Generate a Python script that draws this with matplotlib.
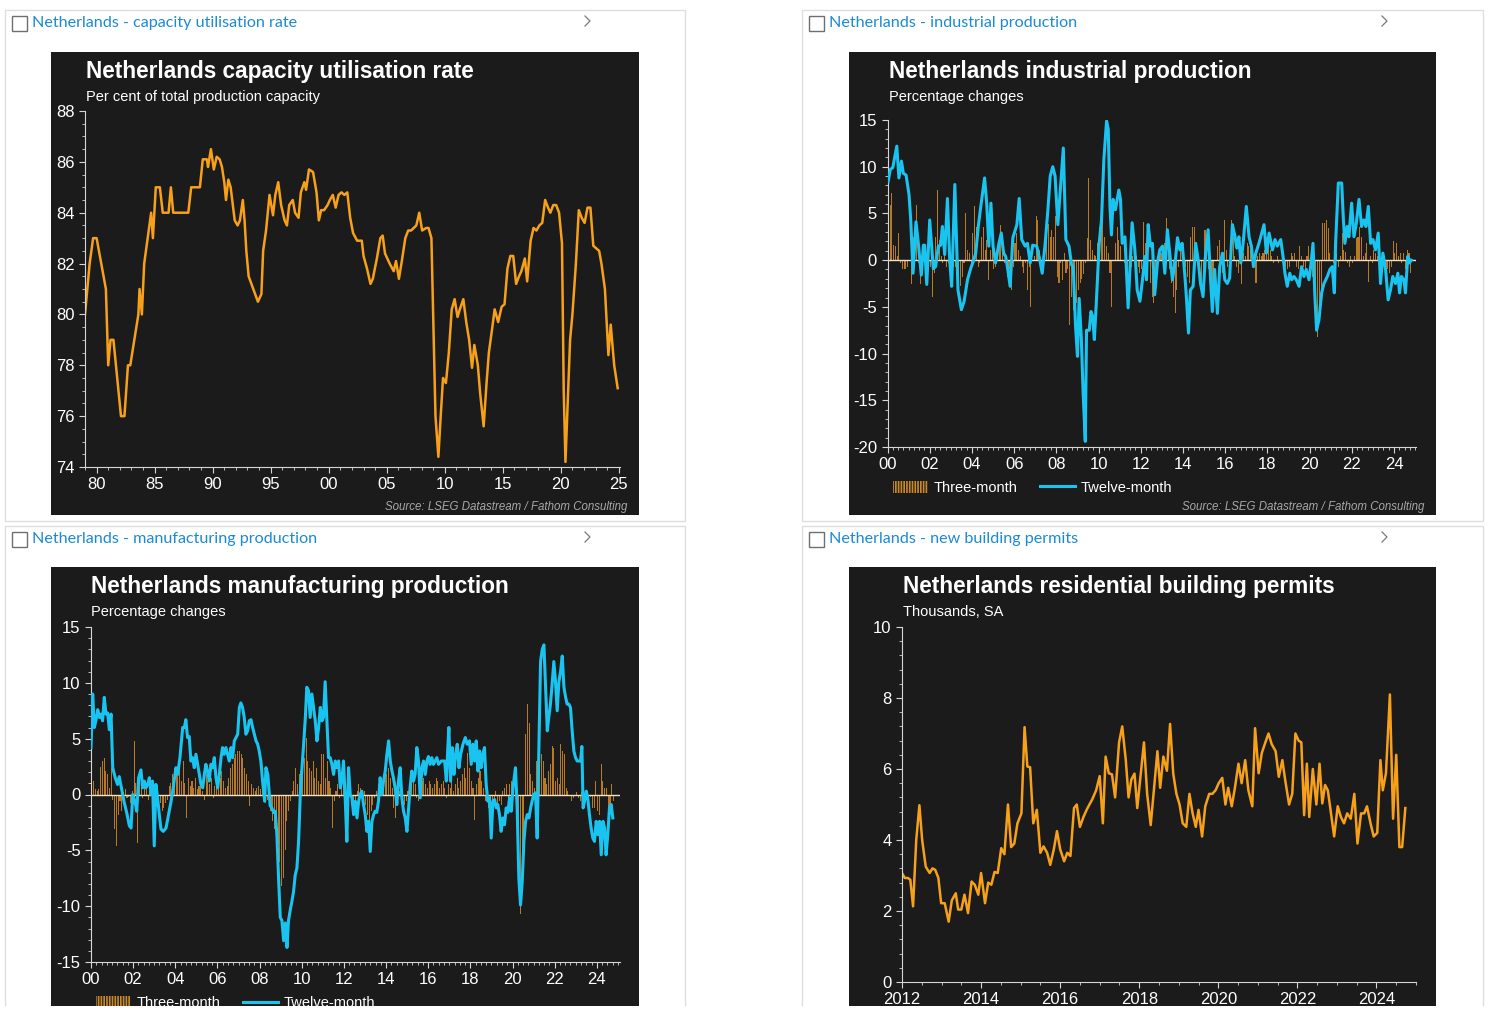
import matplotlib.pyplot as plt
import numpy as np
from matplotlib.lines import Line2D
from matplotlib.patches import Patch, Rectangle
from matplotlib.ticker import MultipleLocator

# ---- data ------------------------------------------------------------------

# capacity utilisation rate, per cent (year, value)
cap_util = [
    (1979.0, 80.0), (1979.4, 82.0), (1979.7, 83.0), (1980.0, 83.0), (1980.4, 82.0),
    (1980.8, 81.0), (1981.0, 78.0), (1981.2, 79.0), (1981.45, 79.0), (1982.1, 76.0),
    (1982.4, 76.0), (1982.7, 78.0), (1982.9, 78.0), (1983.6, 80.0), (1983.7, 81.0),
    (1983.9, 80.0), (1984.1, 82.0), (1984.7, 84.0), (1984.85, 83.0), (1985.1, 85.0),
    (1985.45, 85.0), (1985.7, 84.0), (1986.2, 84.0), (1986.4, 85.0), (1986.6, 84.0),
    (1987.9, 84.0), (1988.15, 85.0), (1988.9, 85.0), (1989.15, 86.1), (1989.5, 86.1),
    (1989.6, 85.8), (1989.85, 86.5), (1990.1, 85.7), (1990.35, 86.2), (1990.6, 86.1),
    (1990.8, 85.8), (1991.0, 85.2), (1991.15, 84.5), (1991.35, 85.3), (1991.55, 85.0),
    (1991.9, 83.7), (1992.15, 83.5), (1992.35, 83.7), (1992.6, 84.5), (1992.75, 83.7),
    (1992.9, 82.5), (1993.1, 81.5), (1993.5, 81.0), (1993.9, 80.5), (1994.2, 80.8),
    (1994.35, 82.5), (1994.6, 83.3), (1994.9, 84.7), (1995.2, 83.9), (1995.4, 84.7),
    (1995.65, 85.2), (1995.9, 84.3), (1996.2, 83.7), (1996.4, 83.5), (1996.6, 84.3),
    (1996.9, 84.5), (1997.1, 84.0), (1997.4, 83.8), (1997.6, 84.8), (1997.9, 85.2),
    (1998.05, 84.9), (1998.3, 85.7), (1998.65, 85.6), (1998.95, 84.8), (1999.15, 83.7),
    (1999.35, 84.1), (1999.6, 84.1), (1999.9, 84.3), (2000.1, 84.5), (2000.35, 84.7),
    (2000.6, 84.2), (2000.85, 84.7), (2001.1, 84.8), (2001.35, 84.7), (2001.6, 84.8),
    (2001.85, 83.8), (2002.1, 83.2), (2002.45, 82.9), (2002.85, 82.9), (2003.0, 82.3),
    (2003.3, 81.8), (2003.6, 81.2), (2003.8, 81.4), (2004.15, 82.2), (2004.45, 83.0),
    (2004.65, 83.1), (2004.85, 82.4), (2005.25, 82.0), (2005.6, 81.7), (2005.8, 82.1),
    (2006.05, 81.4), (2006.3, 82.1), (2006.6, 83.0), (2006.85, 83.3), (2007.1, 83.3),
    (2007.55, 83.5), (2007.8, 84.0), (2008.05, 83.3), (2008.4, 83.4), (2008.6, 83.4),
    (2008.85, 83.0), (2009.05, 79.0), (2009.2, 76.0), (2009.45, 74.4), (2009.65, 76.0),
    (2009.85, 77.5), (2010.1, 77.3), (2010.35, 78.5), (2010.6, 80.2), (2010.85, 80.6),
    (2011.1, 79.9), (2011.3, 80.2), (2011.6, 80.6), (2011.85, 79.7), (2012.1, 79.0),
    (2012.35, 77.9), (2012.55, 78.8), (2012.85, 78.0), (2013.05, 76.9), (2013.35, 75.6),
    (2013.6, 77.3), (2013.8, 78.5), (2014.1, 79.5), (2014.3, 80.2), (2014.6, 79.7),
    (2014.9, 80.3), (2015.15, 80.4), (2015.4, 81.8), (2015.65, 82.3), (2015.9, 82.3),
    (2016.15, 81.2), (2016.4, 81.5), (2016.6, 81.7), (2016.9, 82.2), (2017.1, 81.3),
    (2017.4, 82.9), (2017.65, 83.4), (2017.9, 83.3), (2018.15, 83.5), (2018.4, 83.6),
    (2018.65, 84.5), (2018.9, 84.2), (2019.1, 84.0), (2019.35, 84.3), (2019.6, 84.3),
    (2019.85, 84.0), (2020.1, 82.8), (2020.25, 77.0), (2020.4, 74.2), (2020.55, 76.0),
    (2020.8, 79.0), (2021.0, 80.0), (2021.3, 82.0), (2021.55, 84.1), (2021.8, 83.8),
    (2022.05, 83.6), (2022.3, 84.2), (2022.55, 84.2), (2022.8, 82.7), (2023.05, 82.6),
    (2023.3, 82.5), (2023.5, 82.0), (2023.8, 81.0), (2024.1, 78.4), (2024.3, 79.6),
    (2024.6, 78.0), (2024.9, 77.1),
]

# industrial production, three-month % change, monthly from Jan 2000
ip_three = [
    5.8, 5.9, 7.2, 1.6, 1.5, 0.4, 2.9, -0.3, -1.0, -1.0, -0.9, -0.7,   # 2000
    0.0, -2.6, 2.5, 0.4, 5.9, -0.3, -2.6, -0.3, 0.8, -0.7, -1.8, -0.3,
    -0.7, -3.9, -1.4, 2.5, 7.5, 2.2, 0.4, -0.3, 0.8, -0.7, -0.3, -0.7,
    -1.0, -0.7, -0.7, -1.4, -3.2, -2.8, -1.8, -0.3, 5.0, 1.1, 0.8, -0.7,
    2.9, 5.8, 3.6, -0.7, -0.3, 2.5, 3.6, 1.1, 2.2, -2.1, 1.1, 1.8,
    -1.0, -0.7, 0.8, 1.8, 3.8, 1.1, -0.3, -0.7, -1.8, -1.0, -3.2, -0.7,  # 2005
    1.8, 2.9, 1.1, 0.4, -0.7, -1.4, -0.3, -3.2, -0.7, -5.0, 0.0, 0.4,
    4.7, 4.3, 1.1, -0.3, 0.0, 1.1, 2.5, 3.9, 2.5, 3.2, 2.5, 4.7,
    -1.8, -2.5, -0.3, -2.1, 0.8, -1.4, -1.0, -6.9, -3.9, -5.3, -6.0, -4.6,
    -3.2, -2.5, -2.0, -1.5, -0.3, 2.4, 8.8, 2.2, 1.1, 0.6, 0.4, 1.8,
    3.6, 3.9, 4.7, 2.5, 1.5, 0.8, -1.4, -5.0, 0.0, 1.8, 3.6, 2.2,       # 2010
    1.5, 0.0, -0.3, -0.7, -1.0, -1.8, -0.7, 0.4, 1.1, 0.4, -0.7, -1.4,
    -1.0, 4.1, 1.8, 0.8, 0.0, -2.5, -3.9, -4.6, -1.8, 0.0, 0.4, 0.8,
    1.5, 1.8, 4.5, 1.1, -1.0, -2.5, -3.9, -5.7, -3.2, -0.7, 1.1, 1.8,
    0.0, -0.7, -1.8, -2.5, 2.5, 3.6, 3.6, 1.8, 1.1, -1.0, -2.5, -0.7,
    3.2, 1.8, -1.0, -2.9, -3.9, -2.5, 0.0, 1.5, 2.2, -0.3, -1.4, 4.3,   # 2015
    1.1, -0.7, -0.3, 4.3, 2.5, 0.4, -0.7, -1.4, -0.3, -2.6, 0.8, 0.4,
    1.8, 1.5, 1.1, 0.4, -0.7, -2.5, 0.4, 0.8, 0.4, 0.8, 1.1, 2.5,
    1.8, 1.1, 0.4, -0.3, 0.0, 0.4, -0.3, -0.1, 0.4, 0.2, -0.7, -1.0,
    -0.7, 0.8, 0.4, 0.8, -0.7, -1.0, 1.5, 0.4, -0.7, -1.4, 0.4, 1.5,
    -1.0, -1.8, -0.7, -5.3, -8.2, -6.0, -3.9, 4.0, 4.0, 4.3, 3.4, 0.8,  # 2020
    0.0, -0.3, 0.4, 0.8, -0.7, 0.4, 2.9, 1.1, 0.9, -0.3, -0.7, 0.4,
    -0.3, 0.4, 2.4, 2.5, 3.6, 2.5, 0.4, 0.8, 1.8, -2.3, 0.4, -0.3,
    1.1, 0.8, 0.4, -0.3, -0.7, 0.0, -0.3, -0.7, -1.0, -1.4, -0.7, 2.0,
    0.8, 1.8, 0.4, 0.8, -0.3, 0.8, -1.0, 1.1, 0.8, -1.4,
]

# industrial production, twelve-month % change (year, value)
ip_twelve = [
    (2000.03, 8.4), (2000.13, 9.7), (2000.25, 9.9), (2000.44, 12.2), (2000.54, 8.8),
    (2000.66, 10.6), (2000.75, 9.3), (2000.88, 9.1), (2001.02, 7.0), (2001.1, 4.3),
    (2001.21, -1.4), (2001.35, 4.1), (2001.46, 1.8), (2001.6, -1.6), (2001.7, 1.6),
    (2001.76, 1.6), (2001.86, -2.6), (2002.0, 4.3), (2002.17, -0.9), (2002.28, -0.7),
    (2002.41, 1.5), (2002.52, 1.6), (2002.6, 3.6), (2002.71, 0.6), (2002.84, 6.6),
    (2002.95, -0.1), (2003.04, -2.8), (2003.19, 8.1), (2003.34, -3.2), (2003.5, -5.3),
    (2003.63, -4.4), (2003.79, -2.1), (2003.94, -0.9), (2004.07, -0.1), (2004.18, 0.75),
    (2004.3, 3.6), (2004.42, 5.75), (2004.6, 8.8), (2004.7, 6.1), (2004.8, 1.5),
    (2004.9, 6.1), (2005.0, 1.5), (2005.12, -0.3), (2005.28, 1.8), (2005.39, 2.9),
    (2005.5, 0.75), (2005.6, 0.4), (2005.7, -1.0), (2005.81, -2.8), (2005.94, 2.4),
    (2006.13, 3.8), (2006.24, 6.6), (2006.36, 2.2), (2006.52, 1.5), (2006.63, 1.8),
    (2006.76, -0.3), (2006.88, 1.6), (2007.07, 1.5), (2007.2, 0.2), (2007.33, -1.4),
    (2007.47, 1.8), (2007.6, 5.4), (2007.71, 9.0), (2007.83, 10.0), (2007.94, 9.0),
    (2008.07, 3.8), (2008.33, 12.0), (2008.45, 2.2), (2008.6, 1.5), (2008.72, -0.5),
    (2008.8, -0.7), (2008.91, -7.1), (2009.0, -10.3), (2009.08, -4.1), (2009.18, -8.2),
    (2009.27, -14.3), (2009.37, -19.4), (2009.43, -7.5), (2009.56, -7.5), (2009.64, -5.5),
    (2009.72, -6.0), (2009.8, -8.5), (2009.9, -4.25), (2010.03, 1.8), (2010.14, 4.3),
    (2010.25, 10.75), (2010.38, 14.9), (2010.46, 14.0), (2010.54, 5.75), (2010.61, 2.7),
    (2010.69, 6.5), (2010.8, 5.4), (2010.96, 7.5), (2011.04, 6.5), (2011.12, 1.8),
    (2011.25, 2.5), (2011.4, -5.1), (2011.59, 4.0), (2011.72, 1.1), (2011.83, -3.2),
    (2011.96, -4.4), (2012.08, -2.1), (2012.2, 0.4), (2012.27, -2.1), (2012.35, 3.8),
    (2012.46, 1.5), (2012.55, 1.8), (2012.66, -3.7), (2012.79, -0.3), (2012.9, 1.1),
    (2013.03, 1.5), (2013.14, -1.4), (2013.26, 3.25), (2013.37, 0.75), (2013.5, -2.1),
    (2013.64, 0.0), (2013.74, 2.4), (2013.85, 1.1), (2013.96, 1.8), (2014.08, -1.4),
    (2014.16, -3.9), (2014.26, -7.8), (2014.35, -3.2), (2014.48, -2.8), (2014.6, 1.8),
    (2014.72, 0.0), (2014.83, -2.5), (2014.95, -3.9), (2015.06, 0.4), (2015.19, 3.25),
    (2015.3, -1.75), (2015.39, -5.5), (2015.5, -1.0), (2015.63, -5.7), (2015.74, -0.7),
    (2015.87, 0.75), (2015.98, -2.1), (2016.1, -2.5), (2016.21, -1.9), (2016.34, 3.8),
    (2016.45, 2.7), (2016.55, 1.3), (2016.65, 2.5), (2016.74, -0.3), (2016.85, 1.8),
    (2017.0, 5.75), (2017.13, 2.5), (2017.24, 1.5), (2017.34, -0.7), (2017.45, 0.75),
    (2017.6, 1.8), (2017.84, 3.8), (2017.95, 0.75), (2018.08, 2.9), (2018.24, 1.1),
    (2018.36, 2.2), (2018.47, 1.5), (2018.63, 2.2), (2018.74, 0.4), (2018.83, -1.4),
    (2018.94, -2.8), (2019.06, -1.4), (2019.15, -2.1), (2019.26, -1.75), (2019.37, -2.1),
    (2019.5, -2.8), (2019.62, -0.7), (2019.73, -1.75), (2019.84, -1.0), (2019.97, -2.1),
    (2020.05, -0.7), (2020.16, 1.8), (2020.25, -3.9), (2020.33, -7.5), (2020.44, -6.4),
    (2020.57, -3.5), (2020.68, -2.5), (2020.84, -1.75), (2020.96, -1.0), (2021.07, -0.7),
    (2021.17, -3.5), (2021.23, 1.8), (2021.36, 8.25), (2021.52, 8.25), (2021.6, 4.3),
    (2021.67, 1.8), (2021.78, 3.6), (2021.86, 2.5), (2021.99, 6.1), (2022.1, 2.5),
    (2022.21, 3.9), (2022.34, 6.5), (2022.46, 3.6), (2022.57, 4.3), (2022.67, 3.6),
    (2022.78, 5.75), (2022.89, 1.8), (2023.0, 2.2), (2023.12, 1.1), (2023.25, 2.9),
    (2023.36, -2.5), (2023.47, 0.75), (2023.6, -1.0), (2023.72, -4.25), (2023.83, -3.2),
    (2023.94, -1.75), (2024.07, -2.5), (2024.18, -1.4), (2024.26, -3.5), (2024.35, -1.75),
    (2024.47, -2.1), (2024.54, -3.5), (2024.65, 0.4), (2024.73, -0.3), (2024.81, 0.0),
]

# manufacturing production, three-month % change, monthly from Jan 2000
mp_three = [
    2.0, 1.2, 0.5, 0.3, 0.5, 2.5, 3.0, 3.3, 2.1, 1.8, 0.6, 2.4,        # 2000
    -0.5, -3.1, -4.6, -1.8, -0.6, -1.5, 0.2, 0.5, -0.3, -0.2, -0.8, 0.3,
    4.8, 1.0, -4.3, 1.5, 0.8, -0.3, 1.3, 0.5, -0.5, 0.3, 0.8, -0.5,
    -1.0, -0.5, -0.3, -0.8, -1.5, -1.2, -0.8, -0.5, 0.8, 1.0, 1.8, 2.4,
    2.4, 1.8, 2.7, 1.2, 3.0, 1.0, -2.1, 1.5, 0.8, 1.2, 0.6, 1.5,
    0.5, 0.8, 1.5, 0.3, -0.5, 1.8, 1.2, 0.9, 1.5, -0.3, 0.8, 1.2,      # 2005
    0.6, 1.5, 2.1, 1.2, 0.6, 0.8, 1.5, 2.4, 2.7, 3.3, 3.6, 3.9,
    3.9, 3.6, 3.3, 2.4, 1.8, 1.2, -1.0, 0.9, 0.6, 0.3, 0.6, 0.8,
    0.5, 0.8, 0.3, -0.8, -0.5, -1.0, -1.5, -2.4, -3.1, -2.0, -4.5, -6.0,
    -8.2, -7.5, -5.0, -2.4, -1.5, -0.6, 0.3, 1.2, 2.4, 0.9, 1.8, 2.1,
    2.4, 3.3, 5.1, 3.0, 2.4, 2.1, 3.0, 1.5, 2.4, 1.2, 0.9, 3.6,        # 2010
    3.6, 1.5, 3.0, 1.2, 0.6, -3.0, -0.6, 0.3, 0.9, -0.3, 0.6, 1.2,
    0.3, -0.6, 0.9, 0.0, -0.6, -1.2, -0.6, 0.3, 0.9, 0.6, -0.3, 0.3,
    -0.9, -1.8, -2.4, -1.5, -0.9, -0.3, 0.3, 0.9, 1.2, 0.6, 1.5, 2.1,
    1.8, 2.4, 1.5, 0.6, -1.2, -2.1, -0.9, 0.3, 1.5, -0.3, -0.9, -0.6,
    0.3, 0.6, 1.2, 1.8, 0.9, -0.3, -0.6, 0.6, 1.2, 1.5, 0.9, 0.6,      # 2015
    1.2, 0.9, 0.6, 0.9, 1.5, 1.2, 0.6, 0.9, 1.2, 0.6, -0.3, 0.9,
    0.6, 1.2, 0.3, 0.9, 1.5, 0.6, 1.2, 1.8, 2.4, 1.5, 3.7, 2.4,
    1.2, 0.6, -2.3, 0.9, 1.5, 2.1, 1.2, 0.6, -0.6, 0.3, -1.2, -0.9,
    -0.6, -0.3, 0.3, -1.2, -0.6, -0.9, 0.3, 0.6, 0.9, -0.3, 0.9, 1.2,
    0.6, 2.4, -0.6, -3.9, -10.7, -8.4, -3.6, 5.4, 8.1, 6.4, 1.8, 1.2,  # 2020
    0.6, 3.0, 0.6, 3.9, 3.6, 3.0, 1.5, 0.9, 2.1, 2.7, 4.3, 4.2,
    1.2, 1.5, 0.9, 4.5, 3.9, 3.6, 0.6, 0.3, 0.0, -0.6, -0.3, 0.0,
    0.2, -0.3, -0.6, 0.2, -0.3, -0.6, -0.2, -0.6, -0.2, -1.2, -1.2, 1.2,
    -1.5, -1.8, 2.7, 1.2, 0.6, 0.6, -1.2, -1.8, 0.9, -0.6,
]

# manufacturing production, twelve-month % change (year, value)
mp_twelve = [
    (2000.0, 4.2), (2000.08, 9.0), (2000.16, 6.0), (2000.24, 6.7), (2000.32, 7.6),
    (2000.4, 6.9), (2000.47, 7.2), (2000.55, 6.6), (2000.63, 8.7), (2000.71, 7.2),
    (2000.79, 7.3), (2000.87, 5.8), (2000.95, 7.2), (2001.03, 2.4), (2001.15, 1.5),
    (2001.26, 0.9), (2001.34, 1.6), (2001.47, 0.3), (2001.58, -0.75), (2001.69, -1.6),
    (2001.82, -2.8), (2001.9, -3.0), (2001.98, 0.0), (2002.1, -0.75), (2002.17, -1.5),
    (2002.26, 1.5), (2002.37, 2.2), (2002.45, 0.6), (2002.53, 1.2), (2002.6, 0.6),
    (2002.69, 0.9), (2002.77, 1.5), (2002.85, 0.0), (2002.92, 1.2), (2003.0, -4.6),
    (2003.08, 0.9), (2003.16, -0.3), (2003.24, -1.8), (2003.32, -3.1), (2003.43, -3.3),
    (2003.56, -3.0), (2003.68, -1.8), (2003.8, -0.6), (2003.9, 0.6), (2004.03, 2.4),
    (2004.11, 1.8), (2004.22, 3.3), (2004.35, 6.0), (2004.43, 6.0), (2004.5, 6.7),
    (2004.58, 5.1), (2004.66, 5.2), (2004.74, 3.0), (2004.82, 3.3), (2004.9, 2.4),
    (2004.98, 3.6), (2005.06, 2.7), (2005.14, 1.8), (2005.22, 0.9), (2005.3, 0.6),
    (2005.38, 1.8), (2005.45, 2.7), (2005.53, 2.1), (2005.61, 1.2), (2005.69, 2.7),
    (2005.77, 2.4), (2005.85, 3.3), (2005.93, 1.5), (2006.01, 0.6), (2006.09, 1.8),
    (2006.17, 3.3), (2006.24, 4.2), (2006.32, 3.6), (2006.4, 4.2), (2006.48, 3.6),
    (2006.56, 3.0), (2006.64, 4.2), (2006.72, 3.3), (2006.8, 4.8), (2006.88, 5.1),
    (2006.96, 5.4), (2007.04, 7.8), (2007.11, 8.2), (2007.19, 7.8), (2007.27, 6.9),
    (2007.35, 5.4), (2007.43, 5.7), (2007.51, 6.6), (2007.59, 6.7), (2007.67, 6.0),
    (2007.75, 5.4), (2007.83, 4.8), (2007.91, 4.5), (2007.98, 3.9), (2008.06, 3.0),
    (2008.14, 1.2), (2008.24, -0.6), (2008.3, 2.4), (2008.39, 1.8), (2008.5, -1.0),
    (2008.58, -1.2), (2008.66, -1.6), (2008.74, -1.5), (2008.82, -3.6), (2008.9, -7.5),
    (2008.98, -11.0), (2009.06, -11.3), (2009.14, -13.1), (2009.22, -11.5), (2009.3, -13.7),
    (2009.37, -11.3), (2009.45, -10.4), (2009.53, -9.6), (2009.61, -8.7), (2009.69, -7.2),
    (2009.77, -6.6), (2009.85, -4.2), (2009.93, 0.0), (2010.01, 2.4), (2010.09, 4.5),
    (2010.17, 6.9), (2010.24, 9.6), (2010.32, 9.3), (2010.4, 6.9), (2010.48, 9.0),
    (2010.56, 7.8), (2010.64, 6.6), (2010.72, 4.8), (2010.8, 6.0), (2010.88, 7.8),
    (2010.96, 6.6), (2011.03, 6.9), (2011.11, 10.1), (2011.19, 6.6), (2011.27, 3.3),
    (2011.35, 3.3), (2011.43, 2.7), (2011.51, 1.8), (2011.59, 3.0), (2011.67, 2.4),
    (2011.75, 3.0), (2011.83, 0.6), (2011.9, 1.2), (2011.98, 3.0), (2012.06, -0.3),
    (2012.14, -4.2), (2012.22, 2.4), (2012.3, 0.0), (2012.38, -0.3), (2012.46, -1.8),
    (2012.54, -0.6), (2012.62, -2.1), (2012.7, -0.6), (2012.77, 0.0), (2012.85, 0.3),
    (2012.93, -0.9), (2013.01, -1.8), (2013.09, -3.3), (2013.17, -2.4), (2013.25, -5.1),
    (2013.33, -2.4), (2013.41, -1.8), (2013.48, -1.5), (2013.56, -1.6), (2013.64, -0.6),
    (2013.72, 1.5), (2013.8, 0.0), (2013.88, 1.2), (2013.96, 2.1), (2014.04, 3.6),
    (2014.12, 4.8), (2014.2, 3.0), (2014.28, 2.1), (2014.35, 1.5), (2014.43, 0.6),
    (2014.51, -0.9), (2014.59, 1.2), (2014.67, 2.4), (2014.75, -0.3), (2014.83, -1.5),
    (2014.91, -2.1), (2014.99, -3.3), (2015.07, -1.2), (2015.14, 0.6), (2015.22, 2.1),
    (2015.3, 1.2), (2015.38, 1.8), (2015.46, 4.2), (2015.54, 3.0), (2015.62, -0.3),
    (2015.7, 2.4), (2015.78, 3.0), (2015.86, 1.8), (2015.94, 3.0), (2016.01, 3.4),
    (2016.09, 2.7), (2016.17, 3.3), (2016.25, 2.7), (2016.33, 3.0), (2016.41, 3.3),
    (2016.49, 2.7), (2016.62, 3.0), (2016.78, 3.0), (2016.86, 1.2), (2016.93, 4.2),
    (2016.98, 6.0), (2017.06, 1.2), (2017.14, 4.2), (2017.22, 1.8), (2017.3, 3.6),
    (2017.38, 4.5), (2017.46, 2.4), (2017.54, 3.6), (2017.65, 4.5), (2017.76, 5.1),
    (2017.85, 4.5), (2017.96, 4.8), (2018.04, 2.7), (2018.12, 4.5), (2018.2, 3.0),
    (2018.28, 4.8), (2018.36, 2.1), (2018.44, 3.9), (2018.51, 2.4), (2018.59, 3.6),
    (2018.67, 4.2), (2018.75, 0.9), (2018.83, -0.6), (2018.91, -0.3), (2018.99, -3.9),
    (2019.07, -0.6), (2019.15, -0.45), (2019.23, -1.2), (2019.3, -0.9), (2019.38, -1.8),
    (2019.46, -3.3), (2019.54, -2.1), (2019.62, -2.7), (2019.7, -1.2), (2019.78, -1.6),
    (2019.86, -0.3), (2019.94, -1.5), (2020.02, 0.6), (2020.14, 2.4), (2020.22, -1.2),
    (2020.3, -7.5), (2020.38, -9.9), (2020.46, -7.8), (2020.54, -4.2), (2020.62, -2.4),
    (2020.7, -1.8), (2020.78, -2.1), (2020.86, -1.2), (2020.93, -0.6), (2021.01, 0.0),
    (2021.09, 0.15), (2021.17, -3.9), (2021.25, 4.2), (2021.33, 11.9), (2021.41, 13.0),
    (2021.49, 13.4), (2021.57, 9.6), (2021.65, 5.7), (2021.72, 6.9), (2021.8, 8.1),
    (2021.88, 9.9), (2021.96, 11.9), (2022.04, 10.1), (2022.12, 7.5), (2022.2, 10.1),
    (2022.28, 11.0), (2022.36, 12.4), (2022.44, 9.6), (2022.52, 8.7), (2022.59, 8.1),
    (2022.67, 8.1), (2022.75, 7.8), (2022.83, 5.7), (2022.91, 3.9), (2022.99, 3.3),
    (2023.07, 3.0), (2023.15, 3.0), (2023.23, 3.0), (2023.29, 4.3), (2023.35, -1.2),
    (2023.42, -0.6), (2023.5, 0.3), (2023.57, -0.3), (2023.65, -1.8), (2023.73, -3.0),
    (2023.81, -3.9), (2023.89, -4.2), (2023.97, -2.4), (2024.05, -3.6), (2024.13, -2.4),
    (2024.21, -5.4), (2024.29, -2.4), (2024.37, -3.0), (2024.44, -5.4), (2024.52, -3.6),
    (2024.6, -1.2), (2024.68, -0.9), (2024.76, -2.1),
]

# residential building permits, thousands SA (year, value)
permits = [
    (2012.0, 3.07), (2012.07, 2.93), (2012.15, 2.93), (2012.21, 2.88), (2012.28, 2.13),
    (2012.36, 4.0), (2012.44, 4.98), (2012.51, 4.0), (2012.6, 3.25), (2012.7, 3.07),
    (2012.77, 3.2), (2012.84, 3.16), (2012.92, 2.93), (2012.99, 2.22), (2013.08, 2.22),
    (2013.18, 1.7), (2013.26, 2.3), (2013.36, 2.5), (2013.42, 2.04), (2013.5, 2.04),
    (2013.58, 2.46), (2013.67, 1.94), (2013.76, 2.83), (2013.84, 2.74), (2013.93, 2.46),
    (2014.0, 3.07), (2014.1, 2.22), (2014.18, 2.8), (2014.26, 2.74), (2014.34, 3.1),
    (2014.42, 3.07), (2014.51, 3.77), (2014.59, 3.6), (2014.68, 5.0), (2014.76, 3.8),
    (2014.84, 3.9), (2014.92, 4.47), (2015.02, 4.75), (2015.1, 7.18), (2015.17, 6.07),
    (2015.24, 6.05), (2015.32, 4.47), (2015.41, 4.85), (2015.5, 3.64), (2015.58, 3.82),
    (2015.67, 3.64), (2015.75, 3.3), (2015.84, 3.74), (2015.92, 4.25), (2016.0, 3.74),
    (2016.1, 3.4), (2016.18, 3.64), (2016.26, 3.55), (2016.35, 4.9), (2016.42, 5.0),
    (2016.5, 4.37), (2016.59, 4.65), (2016.67, 4.85), (2016.74, 5.0), (2016.81, 5.14),
    (2016.91, 5.4), (2017.0, 5.8), (2017.08, 4.47), (2017.15, 6.35), (2017.23, 5.88),
    (2017.31, 5.85), (2017.39, 5.2), (2017.49, 6.75), (2017.57, 7.2), (2017.66, 6.25),
    (2017.73, 5.2), (2017.8, 5.7), (2017.88, 5.87), (2017.95, 4.9), (2018.03, 5.78),
    (2018.12, 6.75), (2018.2, 5.3), (2018.29, 4.42), (2018.37, 5.4), (2018.46, 6.5),
    (2018.53, 5.47), (2018.61, 6.35), (2018.7, 5.95), (2018.78, 7.27), (2018.86, 5.87),
    (2018.94, 5.3), (2019.02, 5.0), (2019.1, 4.47), (2019.19, 4.37), (2019.27, 5.3),
    (2019.35, 4.75), (2019.43, 4.37), (2019.5, 4.85), (2019.59, 4.1), (2019.67, 4.95),
    (2019.77, 5.3), (2019.85, 5.3), (2019.93, 5.4), (2020.01, 5.6), (2020.1, 5.75),
    (2020.18, 5.0), (2020.25, 5.47), (2020.34, 4.95), (2020.42, 5.47), (2020.51, 6.15),
    (2020.59, 5.6), (2020.68, 6.25), (2020.76, 5.4), (2020.86, 4.95), (2020.93, 7.15),
    (2021.02, 5.88), (2021.1, 6.45), (2021.19, 6.75), (2021.27, 7.0), (2021.35, 6.7),
    (2021.45, 6.5), (2021.53, 5.78), (2021.62, 6.25), (2021.69, 5.7), (2021.79, 5.0),
    (2021.87, 5.3), (2021.95, 7.0), (2022.03, 6.8), (2022.1, 6.75), (2022.17, 4.7),
    (2022.24, 6.15), (2022.3, 4.65), (2022.39, 6.0), (2022.48, 5.0), (2022.56, 6.15),
    (2022.63, 5.03), (2022.7, 5.55), (2022.77, 5.4), (2022.85, 4.75), (2022.93, 4.1),
    (2023.02, 4.95), (2023.1, 4.65), (2023.18, 4.47), (2023.26, 4.75), (2023.35, 4.6),
    (2023.44, 5.3), (2023.52, 3.9), (2023.61, 4.75), (2023.69, 4.75), (2023.76, 4.95),
    (2023.85, 4.47), (2023.93, 4.1), (2024.02, 4.2), (2024.1, 6.25), (2024.16, 5.4),
    (2024.24, 5.88), (2024.34, 8.1), (2024.42, 4.6), (2024.5, 6.4), (2024.58, 3.8),
    (2024.65, 3.8), (2024.73, 4.9),
]

cards = [
    "Netherlands - capacity utilisation rate",
    "Netherlands - industrial production",
    "Netherlands - manufacturing production",
    "Netherlands - new building permits",
]
titles = [
    "Netherlands capacity utilisation rate",
    "Netherlands industrial production",
    "Netherlands manufacturing production",
    "Netherlands residential building permits",
]
subtitles = [
    "Per cent of total production capacity",
    "Percentage changes",
    "Percentage changes",
    "Thousands, SA",
]
legend_labels = ["Three-month", "Twelve-month"]
source = "Source: LSEG Datastream / Fathom Consulting"

# ---- style ------------------------------------------------------------------

W, H = 1500, 1019
DARK = '#1b1b1b'
ORANGE = '#f7a11a'
BAR = '#b87a24'
CYAN = '#1ac4f0'
AXIS = '#d6d6d6'
ZERO = '#efe2c6'
BLUE = '#1a8ad4'

plt.rcParams['font.family'] = ['Liberation Sans', 'DejaVu Sans']
plt.rcParams['axes.unicode_minus'] = False
plt.rcParams['hatch.color'] = '#c98a24'
plt.rcParams['hatch.linewidth'] = 1.2

fig = plt.figure(figsize=(W / 100, H / 100), dpi=100)
fig.patch.set_facecolor('white')


def fx(x):
    return x / W


def fy(y):
    return 1 - y / H


def frect(x0, y0, x1, y1, **kw):
    fig.add_artist(Rectangle((fx(x0), fy(y1)), (x1 - x0) / W, (y1 - y0) / H,
                             transform=fig.transFigure, **kw))


def card(x0, y0, x1, y1, label):
    frect(x0, y0, x1, y1, fill=False, edgecolor='#dedede', lw=1, zorder=1)
    frect(x0 + 7, y0 + 6, x0 + 22, y0 + 21, fill=False, edgecolor='#6f6f6f', lw=1, zorder=1)
    fig.text(fx(x0 + 27), fy(y0 + 13), label, color=BLUE, fontsize=11.6,
             family=['Lato', 'DejaVu Sans'], va='center', ha='left')
    cx = x0 + 583
    fig.add_artist(Line2D([fx(cx - 3), fx(cx + 2), fx(cx - 3)],
                          [fy(y0 + 6), fy(y0 + 11), fy(y0 + 16)],
                          transform=fig.transFigure, color='#7a7a7a', lw=0.9))


def panel(x0, y0, x1, y1, title, subtitle, tx):
    frect(x0, y0, x1, y1, facecolor=DARK, edgecolor='none', zorder=-1)
    fig.text(fx(tx), fy(y0 + 19.5), title, color='white', fontsize=16.3,
             weight='bold', va='center', ha='left')
    fig.text(fx(tx), fy(y0 + 45), subtitle, color='white', fontsize=10.5,
             va='center', ha='left')


def chart(x0, y0, x1, y1):
    ax = fig.add_axes([fx(x0), fy(y1), (x1 - x0) / W, (y1 - y0) / H])
    ax.set_facecolor('none')
    ax.spines['top'].set_visible(False)
    ax.spines['right'].set_visible(False)
    for s in ('left', 'bottom'):
        ax.spines[s].set_color(AXIS)
        ax.spines[s].set_linewidth(0.8)
    ax.tick_params(which='both', colors=AXIS, labelcolor='white',
                   labelsize=12, direction='out')
    ax.tick_params(which='major', length=4, width=0.8)
    ax.tick_params(which='minor', length=2, width=0.6)
    ax.tick_params(axis='y', pad=3.5)
    ax.tick_params(axis='x', pad=3.5)
    return ax


def year_labels(ax, years, fmt):
    ax.set_xticks(years)
    ax.set_xticklabels([fmt(y) for y in years])


def add_legend(ax, x, y):
    handles = [Patch(facecolor='none', edgecolor='#c98a24', hatch='||||||', lw=0),
               Line2D([], [], color=CYAN, lw=2.2)]
    ax.legend(handles, legend_labels, loc='center left', ncol=2,
              bbox_to_anchor=(fx(x), fy(y)), bbox_transform=fig.transFigure,
              frameon=False, labelcolor='white', fontsize=10.5,
              handlelength=2.4, handleheight=0.9, handletextpad=0.4,
              columnspacing=1.5, borderpad=0, borderaxespad=0)


def source_note(x, y):
    fig.text(fx(x), fy(y), source, color='#a8a8a8', fontsize=8.3,
             style='italic', ha='right', va='center')


# ---- cards and panels -------------------------------------------------------

card(5, 10, 685, 521, cards[0])
card(802, 10, 1483, 521, cards[1])
card(5, 526, 685, 1040, cards[2])
card(802, 526, 1483, 1040, cards[3])

panel(51, 52, 639, 515, titles[0], subtitles[0], 86)
panel(849, 52, 1436, 515, titles[1], subtitles[1], 889)
panel(51, 567, 639, 1006, titles[2], subtitles[2], 91)
panel(849, 567, 1436, 1006, titles[3], subtitles[3], 903)

# ---- capacity utilisation ---------------------------------------------------

ax1 = chart(85, 111, 620, 467)
cu_x, cu_y = zip(*cap_util)
ax1.plot(cu_x, cu_y, color=ORANGE, lw=1.8, solid_joinstyle='round')
ax1.set_xlim(1979.0, 2025.1)
ax1.set_ylim(74, 88)
ax1.set_yticks(range(74, 89, 2))
ax1.yaxis.set_minor_locator(MultipleLocator(0.5))
year_labels(ax1, list(range(1980, 2026, 5)), lambda y: f"{y % 100:02d}")
ax1.xaxis.set_minor_locator(MultipleLocator(1))
source_note(627, 507)

# ---- industrial production --------------------------------------------------

ax2 = chart(887.5, 120, 1416, 447)
months = 2000 + (np.arange(len(ip_three)) + 0.5) / 12
ax2.bar(months, ip_three, width=0.05, color=BAR, lw=0, zorder=1)
ax2.axhline(0, color=ZERO, lw=1, zorder=2)
ip_x, ip_y = zip(*ip_twelve)
ax2.plot(ip_x, ip_y, color=CYAN, lw=2.2, solid_joinstyle='round', zorder=3)
ax2.set_xlim(2000, 2025.04)
ax2.set_ylim(-20, 15)
ax2.set_yticks(range(-20, 16, 5))
ax2.yaxis.set_minor_locator(MultipleLocator(1))
year_labels(ax2, list(range(2000, 2025, 2)), lambda y: f"{y % 100:02d}")
ax2.xaxis.set_minor_locator(MultipleLocator(0.25))
add_legend(ax2, 893, 488)
source_note(1424, 507)

# ---- manufacturing production -----------------------------------------------

ax3 = chart(91, 627, 620, 962)
months = 2000 + (np.arange(len(mp_three)) + 0.5) / 12
ax3.bar(months, mp_three, width=0.05, color=BAR, lw=0, zorder=1)
ax3.axhline(0, color=ZERO, lw=1, zorder=2)
mp_x, mp_y = zip(*mp_twelve)
ax3.plot(mp_x, mp_y, color=CYAN, lw=2.2, solid_joinstyle='round', zorder=3)
ax3.set_xlim(2000, 2025.1)
ax3.set_ylim(-15, 15)
ax3.set_yticks(range(-15, 16, 5))
ax3.yaxis.set_minor_locator(MultipleLocator(1))
year_labels(ax3, list(range(2000, 2025, 2)), lambda y: f"{y % 100:02d}")
ax3.xaxis.set_minor_locator(MultipleLocator(0.25))
add_legend(ax3, 96, 1003)

# ---- building permits -------------------------------------------------------

ax4 = chart(902, 627, 1416, 982)
bp_x, bp_y = zip(*permits)
ax4.plot(bp_x, bp_y, color=ORANGE, lw=1.8, solid_joinstyle='round')
ax4.set_xlim(2012, 2025)
ax4.set_ylim(0, 10)
ax4.set_yticks(range(0, 11, 2))
ax4.yaxis.set_minor_locator(MultipleLocator(0.4))
year_labels(ax4, list(range(2012, 2025, 2)), str)
ax4.xaxis.set_minor_locator(MultipleLocator(0.5))

# the page is cut off at the bottom
frect(0, 1006, W, H + 5, facecolor='white', edgecolor='none', zorder=50)

fig.savefig('out.png', dpi=100, facecolor='white')
